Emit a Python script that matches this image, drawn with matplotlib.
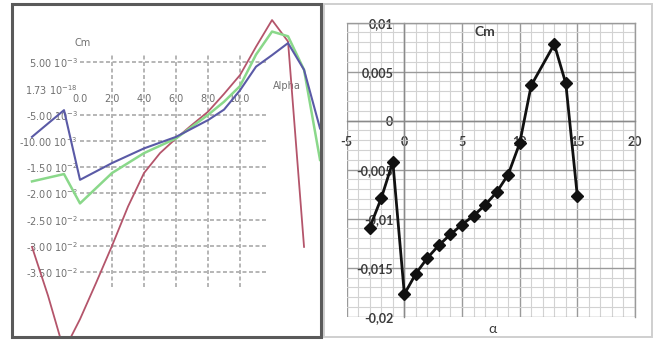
import matplotlib
matplotlib.use("Agg")
import matplotlib.pyplot as plt
from matplotlib.patches import Rectangle
from matplotlib.ticker import MultipleLocator, FixedLocator

# ---------------- data: left panel (three Cm curves) ----------------
alpha_blue = [-3, -1, 0, 2, 4, 6, 8, 9, 10, 11, 12, 13, 14, 15]
cm_blue = [-9.2e-3, -4.1e-3, -17.4e-3, -14.2e-3, -11.4e-3, -9.2e-3, -6.0e-3,
           -4.0e-3, -0.3e-3, 4.2e-3, 6.4e-3, 8.7e-3, 3.6e-3, -7.6e-3]

alpha_green = [-3, -1, 0, 2, 4, 6, 8, 9, 10, 11, 12, 13, 14, 15]
cm_green = [-17.7e-3, -16.3e-3, -21.9e-3, -16.1e-3, -12.3e-3, -9.5e-3, -5.0e-3,
            -2.5e-3, 0.5e-3, 6.5e-3, 10.9e-3, 10.0e-3, 3.6e-3, -13.6e-3]

alpha_red = [-3, -2, -1, 0, 1, 2, 3, 4, 5, 6, 7, 8, 9, 10, 11, 12, 13, 14]
cm_red = [-30.2e-3, -39.5e-3, -50.0e-3, -44.0e-3, -37.1e-3, -30.0e-3, -22.5e-3,
          -16.1e-3, -12.3e-3, -9.5e-3, -6.9e-3, -4.4e-3, -1.0e-3, 2.6e-3,
          8.0e-3, 13.1e-3, 9.0e-3, -30.2e-3]

left_ytick_vals = [5e-3, 0.0, -5e-3, -10e-3, -15e-3, -20e-3, -25e-3, -30e-3, -35e-3]
left_ytick_labels = [r"5.00 $\mathregular{10^{-3}}$", r"1.73 $\mathregular{10^{-18}}$",
                     r"-5.00 $\mathregular{10^{-3}}$", r"-10.00 $\mathregular{10^{-3}}$",
                     r"-1.50 $\mathregular{10^{-2}}$", r"-2.00 $\mathregular{10^{-2}}$",
                     r"-2.50 $\mathregular{10^{-2}}$", r"-3.00 $\mathregular{10^{-2}}$",
                     r"-3.50 $\mathregular{10^{-2}}$"]
left_xtick_vals = [0, 2, 4, 6, 8, 10]
left_xtick_labels = ["0.0", "2.0", "4.0", "6.0", "8.0", "10.0"]
left_hgrid_vals = [5e-3, -5e-3, -10e-3, -15e-3, -20e-3, -25e-3, -30e-3, -35e-3]
left_vgrid_vals = [2, 4, 6, 8, 10]

# ---------------- data: right panel (Cm vs alpha) ----------------
alpha_right = [-3, -2, -1, 0, 1, 2, 3, 4, 5, 6, 7, 8, 9, 10, 11, 13, 14, 15]
cm_right = [-0.0109, -0.0079, -0.0042, -0.0177, -0.0156, -0.0140, -0.0127,
            -0.0116, -0.0106, -0.0097, -0.0086, -0.0073, -0.0055, -0.0023,
            0.0036, 0.0078, 0.0038, -0.0077]
right_xtick_vals = [-5, 0, 5, 10, 15, 20]
right_xtick_labels = ["-5", "0", "5", "10", "15", "20"]
right_ytick_vals = [-0.02, -0.015, -0.01, -0.005, 0.0, 0.005, 0.01]
right_ytick_labels = ["-0,02", "-0,015", "-0,01", "-0,005", "0", "0,005", "0,01"]

W, H = 655, 340
fig = plt.figure(figsize=(W / 100, H / 100), dpi=100)
fig.patch.set_facecolor("white")

def fx(px):
    return px / W

def fy(py):
    return 1 - py / H

# ---------------- left panel ----------------
axL = fig.add_axes([fx(12), fy(337), (321 - 12) / W, (337 - 4) / H])
axL.set_xlim(-4.25, 15.06)
axL.set_ylim(-47.4e-3, 16.16e-3)
axL.set_facecolor("white")

gcol = "#b0b0b0"
axL.hlines(left_hgrid_vals, 0, 11.7, colors=gcol, linestyles=(0, (2.2, 1.4)), lw=1.3, zorder=1)
axL.vlines(left_vgrid_vals, -37.9e-3, 6.4e-3, colors=gcol, linestyles=(0, (2.2, 1.4)), lw=1.3, zorder=1)

axL.plot(alpha_red, cm_red, color="#b4556b", lw=1.3, zorder=3)
axL.plot(alpha_green, cm_green, color="#8ad88a", lw=1.8, zorder=4)
axL.plot(alpha_blue, cm_blue, color="#5a5aa6", lw=1.5, zorder=5)

for s in ["top", "right"]:
    axL.spines[s].set_visible(False)
axL.spines["left"].set_position(("data", 0))
axL.spines["bottom"].set_position(("data", 0))
axL.spines["left"].set_color("none")
axL.spines["bottom"].set_color("none")
axL.yaxis.set_major_locator(FixedLocator(left_ytick_vals))
axL.set_yticklabels(left_ytick_labels)
axL.xaxis.set_major_locator(FixedLocator(left_xtick_vals))
axL.set_xticklabels(left_xtick_labels)
axL.tick_params(axis="y", length=0, pad=1.5, labelsize=7, labelcolor="#707070")
axL.tick_params(axis="x", length=0, pad=4, labelsize=7, labelcolor="#707070")
for t in axL.get_yticklabels() + axL.get_xticklabels():
    t.set_clip_on(False)
axL.set_ylabel("Cm", rotation=0, fontsize=7, color="#707070")
axL.yaxis.set_label_coords(0.227, 0.868)
axL.set_xlabel("Alpha", fontsize=7, color="#707070")
axL.xaxis.set_label_coords(0.89, 0.77)

fig.patches.append(Rectangle((fx(12), fy(337)), (321 - 12) / W, (337 - 4) / H,
                             transform=fig.transFigure, fill=False,
                             edgecolor="#5a5a5a", lw=2.2, zorder=10))

# ---------------- right panel ----------------
fig.patches.append(Rectangle((fx(324), fy(337)), (652 - 324) / W, (337 - 4) / H,
                             transform=fig.transFigure, fill=False,
                             edgecolor="#cfcfcf", lw=1.4, zorder=0))

axR = fig.add_axes([fx(346.7), fy(316.7), 288.3 / W, 294 / H])
axR.set_xlim(-5, 20)
axR.set_ylim(-0.02, 0.01)
axR.xaxis.set_major_locator(FixedLocator(right_xtick_vals))
axR.yaxis.set_major_locator(FixedLocator(right_ytick_vals))
axR.xaxis.set_minor_locator(MultipleLocator(1))
axR.yaxis.set_minor_locator(MultipleLocator(0.001))
axR.set_xticklabels(right_xtick_labels)
axR.set_yticklabels(right_ytick_labels)
axR.grid(which="minor", color="#d2d2d2", lw=0.8, zorder=0)
axR.grid(which="major", color="#9a9a9a", lw=1.0, zorder=0)
axR.set_axisbelow(True)

axR.spines["left"].set_position(("data", 0))
axR.spines["bottom"].set_position(("data", 0))
for s in ["left", "bottom"]:
    axR.spines[s].set_color("#8a8a8a")
    axR.spines[s].set_linewidth(1.0)
for s in ["top", "right"]:
    axR.spines[s].set_color("#9a9a9a")
    axR.spines[s].set_linewidth(1.0)
axR.tick_params(which="both", length=0)
axR.tick_params(axis="x", pad=11, labelsize=9, labelcolor="#3c3c3c")
axR.tick_params(axis="y", pad=8, labelsize=9, labelcolor="#3c3c3c")
for t in axR.get_xticklabels() + axR.get_yticklabels():
    t.set_fontfamily("Lato")
    t.set_fontweight("bold")

axR.plot(alpha_right, cm_right, color="#111111", lw=2.0, marker="D",
         markersize=6.5, markerfacecolor="#111111", markeredgecolor="#111111", zorder=5)

axR.set_title("Cm", fontsize=10, fontweight="bold", color="#3c3c3c",
              family="Lato", x=0.48, y=0.925)
axR.set_xlabel("α", fontsize=10, color="#3c3c3c", family="Lato")
axR.xaxis.set_label_coords(0.507, -0.022)

fig.savefig("out.png", dpi=100, facecolor="white")
